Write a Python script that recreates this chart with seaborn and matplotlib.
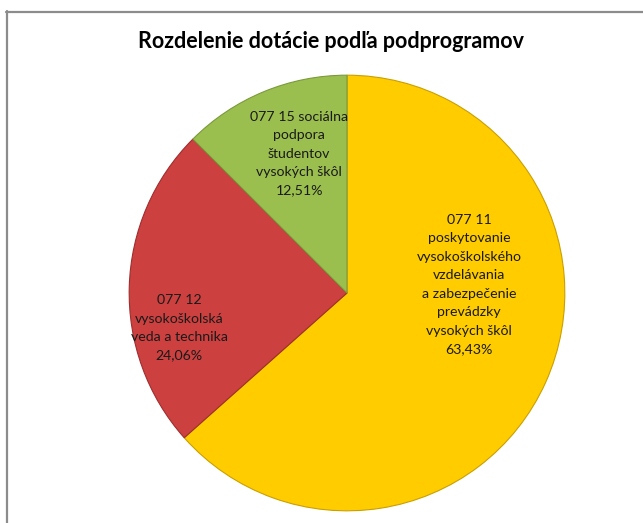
import seaborn as sns
import matplotlib.pyplot as plt
from matplotlib.lines import Line2D

# Data
categories = [
    "077 11\nposkytovanie\nvysokoškolského\nvzdelávania\na zabezpečenie\nprevádzky\nvysokých škôl",
    "077 12\nvysokoškolská\nveda a technika",
    "077 15 sociálna\npodpora\nštudentov\nvysokých škôl",
]
shares = [63.43, 24.06, 12.51]
pct_labels = ["63,43%", "24,06%", "12,51%"]
slice_colors = ["#FFCC00", "#CC4040", "#9BBF4F"]
# where each label sits inside the pie (pie radius = 1)
label_pos = [(0.56, 0.04), (-0.77, -0.16), (-0.22, 0.64)]


def main():
    sns.set_theme(style="white")
    plt.rcParams['font.family'] = ['Lato', 'DejaVu Sans']

    fig = plt.figure(figsize=(6.43, 5.23), dpi=100)
    fig.patch.set_facecolor("white")

    # pie axes: centre ~ (347, 293) px, radius ~ 219 px
    W, H = 643, 523
    cx, cy, r = 347, 293, 220
    ax = fig.add_axes([(cx - r) / W, (H - cy - r) / H, 2 * r / W, 2 * r / H])

    wedges, _ = ax.pie(shares, colors=slice_colors, startangle=90,
                       counterclock=False)
    for w, c in zip(wedges, ["#C9A000", "#9E2E2E", "#7A9A3A"]):
        w.set_edgecolor(c)
        w.set_linewidth(0.8)
    ax.set_aspect("equal")
    ax.set_xlim(-1.01, 1.01)
    ax.set_ylim(-1.01, 1.01)
    ax.axis("off")

    for name, pct, (x, y) in zip(categories, pct_labels, label_pos):
        ax.text(x, y, name + "\n" + pct, ha="center", va="center",
                fontsize=10.2, color="#1a1a1a", linespacing=1.65)

    fig.text(331 / W, 1 - 42 / H, "Rozdelenie dotácie podľa podprogramov",
             ha="center", va="center", fontsize=15.5, fontweight="bold",
             color="black")

    # chart frame (top and left edges visible)
    fig.add_artist(Line2D([6 / W, 1.0], [1 - 11.5 / H, 1 - 11.5 / H],
                          transform=fig.transFigure, color="#8c8c8c", lw=1.6))
    fig.add_artist(Line2D([6.5 / W, 6.5 / W], [0, 1 - 11 / H],
                          transform=fig.transFigure, color="#8c8c8c", lw=1.6))

    fig.savefig("out.png", dpi=100, facecolor="white")


if __name__ == "__main__":
    main()
